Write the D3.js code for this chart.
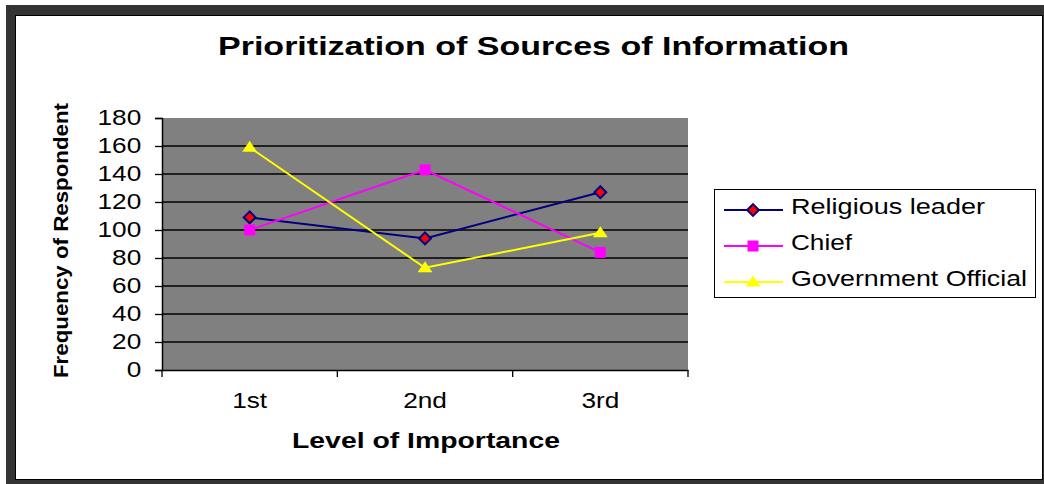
<!DOCTYPE html>
<html>
<head>
<meta charset="utf-8">
<script src="https://cdn.jsdelivr.net/npm/d3@7/dist/d3.min.js"></script>
<style>
  html, body { margin: 0; padding: 0; background: #fff; }
  svg { display: block; font-family: Arial, "Liberation Sans", sans-serif; }
</style>
</head>
<body>
<svg id="chart" width="1044" height="484"></svg>
<script>
'use strict';

// chart values
var levels = ['1st', '2nd', '3rd'];
var seriesNames = ['Religious leader', 'Chief', 'Government Official'];
var religiousLeader = [109, 94, 127];
var chief = [100, 143, 84];
var governmentOfficial = [159, 73, 98];
var yTicks = [0, 20, 40, 60, 80, 100, 120, 140, 160, 180];

// the original text is drawn horizontally stretched
var STRETCH = 1.22;

// flat triangle like the excel marker
var flatTriangle = {
	draw: function (ctx, size) {
		var w = Math.sqrt(size) * 1.35, h = Math.sqrt(size);
		ctx.moveTo(0, -h * 0.6);
		ctx.lineTo(w / 2, h * 0.4);
		ctx.lineTo(-w / 2, h * 0.4);
		ctx.closePath();
	}
};
// square turned 45 degrees
var diamond = {
	draw: function (ctx, size) {
		var r = Math.sqrt(size / 2);
		ctx.moveTo(0, -r);
		ctx.lineTo(r, 0);
		ctx.lineTo(0, r);
		ctx.lineTo(-r, 0);
		ctx.closePath();
	}
};

var series = [
	{ name: seriesNames[0], values: religiousLeader, stroke: '#000080', fill: '#ff0000', marker: diamond, size: 70, outline: 2, labelWidth: 194 },
	{ name: seriesNames[1], values: chief, stroke: '#ff00ff', fill: '#ff00ff', marker: d3.symbolSquare, size: 121, outline: 0, labelWidth: 61 },
	{ name: seriesNames[2], values: governmentOfficial, stroke: '#ffff00', fill: '#ffff00', marker: flatTriangle, size: 120, outline: 0, labelWidth: 236 }
];

var svg = d3.select('#chart');

// outer frame
svg.append('rect').attr('x', 6).attr('y', 5).attr('width', 1038).attr('height', 479).attr('fill', '#333');
svg.append('rect').attr('x', 15.5).attr('y', 15.5).attr('width', 1027).attr('height', 464)
	.attr('fill', '#fff').attr('stroke', '#000').attr('stroke-width', 1);

var plot = { left: 162, right: 688, top: 118, bottom: 370 };

var x = d3.scaleBand().domain(levels).range([plot.left, plot.right]);
var y = d3.scaleLinear().domain([0, 180]).range([plot.bottom, plot.top]);

// plot area
svg.append('rect').attr('x', plot.left).attr('y', plot.top)
	.attr('width', plot.right - plot.left).attr('height', plot.bottom - plot.top)
	.attr('fill', '#808080');

svg.append('g').selectAll('line').data(yTicks.filter(function (d) { return d > 0 && d < 180; }))
	.enter().append('line')
	.attr('x1', plot.left).attr('x2', plot.right)
	.attr('y1', function (d) { return y(d); }).attr('y2', function (d) { return y(d); })
	.attr('stroke', '#000').attr('stroke-width', 1.3);

// axes
var yAxis = svg.append('g').attr('transform', 'translate(' + plot.left + ',0)')
	.call(d3.axisLeft(y).tickValues(yTicks).tickSize(7).tickPadding(10));
var xAxis = svg.append('g').attr('transform', 'translate(0,' + plot.bottom + ')')
	.call(d3.axisBottom(x).tickSize(0).tickPadding(23));

[yAxis, xAxis].forEach(function (g) {
	g.select('.domain').attr('stroke', '#000').attr('stroke-width', 1.5);
	g.selectAll('.tick line').attr('stroke', '#000').attr('stroke-width', 1.3);
	g.selectAll('.tick text').attr('fill', '#000').style('font-size', '21.5px')
		.style('font-family', 'Arial, "Liberation Sans", sans-serif')
		.attr('transform', 'scale(' + STRETCH + ',1)');
});

// category boundary ticks
var edges = levels.map(function (d) { return x(d); }).concat([plot.right]);
svg.append('g').selectAll('line').data(edges).enter().append('line')
	.attr('x1', function (d) { return d; }).attr('x2', function (d) { return d; })
	.attr('y1', plot.bottom).attr('y2', plot.bottom + 7)
	.attr('stroke', '#000').attr('stroke-width', 1.3);

// lines + markers
var cx = function (d, i) { return x(levels[i]) + x.bandwidth() / 2; };
var line = d3.line().x(cx).y(function (d) { return y(d); });

series.forEach(function (s) {
	svg.append('path').datum(s.values).attr('d', line)
		.attr('fill', 'none').attr('stroke', s.stroke).attr('stroke-width', 2);
	svg.append('g').selectAll('path').data(s.values).enter().append('path')
		.attr('d', d3.symbol().type(s.marker).size(s.size))
		.attr('transform', function (d, i) { return 'translate(' + cx(d, i) + ',' + y(d) + ')'; })
		.attr('fill', s.fill).attr('stroke', s.stroke).attr('stroke-width', s.outline);
});

// titles
svg.append('text').attr('x', 218).attr('y', 55)
	.attr('textLength', 631).attr('lengthAdjust', 'spacingAndGlyphs')
	.style('font-size', '26px').style('font-weight', 'bold').text('Prioritization of Sources of Information');

svg.append('text').attr('x', 292).attr('y', 447.5)
	.attr('textLength', 268).attr('lengthAdjust', 'spacingAndGlyphs')
	.style('font-size', '22px').style('font-weight', 'bold').text('Level of Importance');

svg.append('text').attr('transform', 'translate(67.5,378) rotate(-90)')
	.attr('textLength', 275).attr('lengthAdjust', 'spacingAndGlyphs')
	.style('font-size', '21px').style('font-weight', 'bold').text('Frequency of Respondent');

// legend
var legend = svg.append('g').attr('transform', 'translate(714,189)');
legend.append('rect').attr('x', 0.5).attr('y', 0.5).attr('width', 321).attr('height', 108)
	.attr('fill', '#fff').attr('stroke', '#000').attr('stroke-width', 1);

var item = legend.selectAll('g.item').data(series).enter().append('g')
	.attr('class', 'item')
	.attr('transform', function (d, i) { return 'translate(0,' + (21 + i * 36) + ')'; });

item.append('line').attr('x1', 10).attr('x2', 69).attr('y1', 0).attr('y2', 0)
	.attr('stroke', function (d) { return d.stroke; }).attr('stroke-width', 2);
item.append('path')
	.attr('d', function (d) { return d3.symbol().type(d.marker).size(d.size)(); })
	.attr('transform', 'translate(39,0)')
	.attr('fill', function (d) { return d.fill; })
	.attr('stroke', function (d) { return d.stroke; })
	.attr('stroke-width', function (d) { return d.outline; });
item.append('text').attr('x', 77).attr('y', 4)
	.attr('textLength', function (d) { return d.labelWidth; }).attr('lengthAdjust', 'spacingAndGlyphs')
	.style('font-size', '22px').text(function (d) { return d.name; });
</script>
</body>
</html>
